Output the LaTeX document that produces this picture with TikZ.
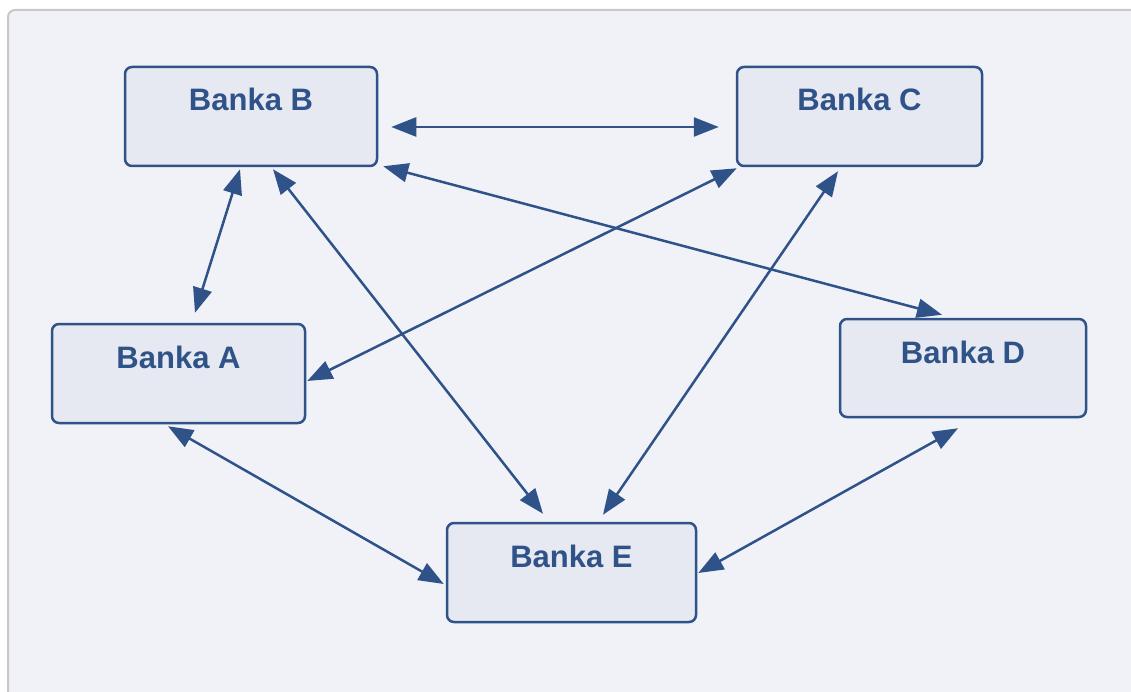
\documentclass[tikz,border=0pt]{standalone}
\usepackage{fontspec}
\setmainfont{Liberation Sans}
\usetikzlibrary{arrows.meta,calc}
\definecolor{ink}{HTML}{2F5288}
\definecolor{panel}{HTML}{F0F2F8}
\definecolor{boxfill}{HTML}{E6E9F1}
\definecolor{frame}{HTML}{C8C8C8}
\tikzset{
  bank/.style={draw=ink, fill=boxfill, line width=2.5pt, rounded corners=7pt,
    inner sep=0pt, text height=44pt, text depth=55pt, text=ink,
    font=\fontsize{31}{31}\selectfont\bfseries},
  link/.style={draw=ink, line width=2.5pt,
    {Triangle[length=25pt,width=19pt]}-{Triangle[length=25pt,width=19pt]}}
}
\begin{document}
\begin{tikzpicture}[x=1pt,y=-1pt]
  \useasboundingbox (0,0) rectangle (1131,692);
  \fill[white] (0,0) rectangle (1131,692);
  \begin{scope}
    \clip (0,0) rectangle (1131,692);
    \draw[frame, fill=panel, line width=2pt, rounded corners=7pt] (8,10) rectangle (1150,710);
  \end{scope}

  % banks
  \node[bank, minimum width=252pt] (B) at (251,116.5) {Banka B};
  \node[bank, minimum width=245pt] (C) at (859.5,116.5) {Banka C};
  \node[bank, minimum width=253pt] (A) at (178.5,373.5) {Banka A};
  \node[bank, minimum width=246pt, text depth=54pt] (D) at (963,368) {Banka D};
  \node[bank, minimum width=249pt] (E) at (571.5,572.5) {Banka E};

  % interbank links
  \draw[link] ($(B.east)+(13,10.5)$) -- ($(C.west)+(-17,10.5)$);
  \draw[link] ($(B.south)+(-11,2)$) -- ($(A.north)+(16.5,-10)$);
  \draw[link] ($(B.south)+(22,2)$) -- ($(E.north)+(-28.5,-8)$);
  \draw[link] ($(B.south east)+(5,-1)$) -- ($(D.north)+(-21,-3)$);
  \draw[link] ($(C.south west)+(1,1)$) -- ($(A.east)+(1,7.5)$);
  \draw[link] ($(C.south)+(-21.5,4)$) -- ($(E.north)+(31.5,-7)$);
  \draw[link] ($(A.south)+(-10.5,2)$) -- ($(E.west)+(-2,11.5)$);
  \draw[link] ($(D.south)+(-5,10)$) -- ($(E.east)+(1,0.5)$);
\end{tikzpicture}
\end{document}
